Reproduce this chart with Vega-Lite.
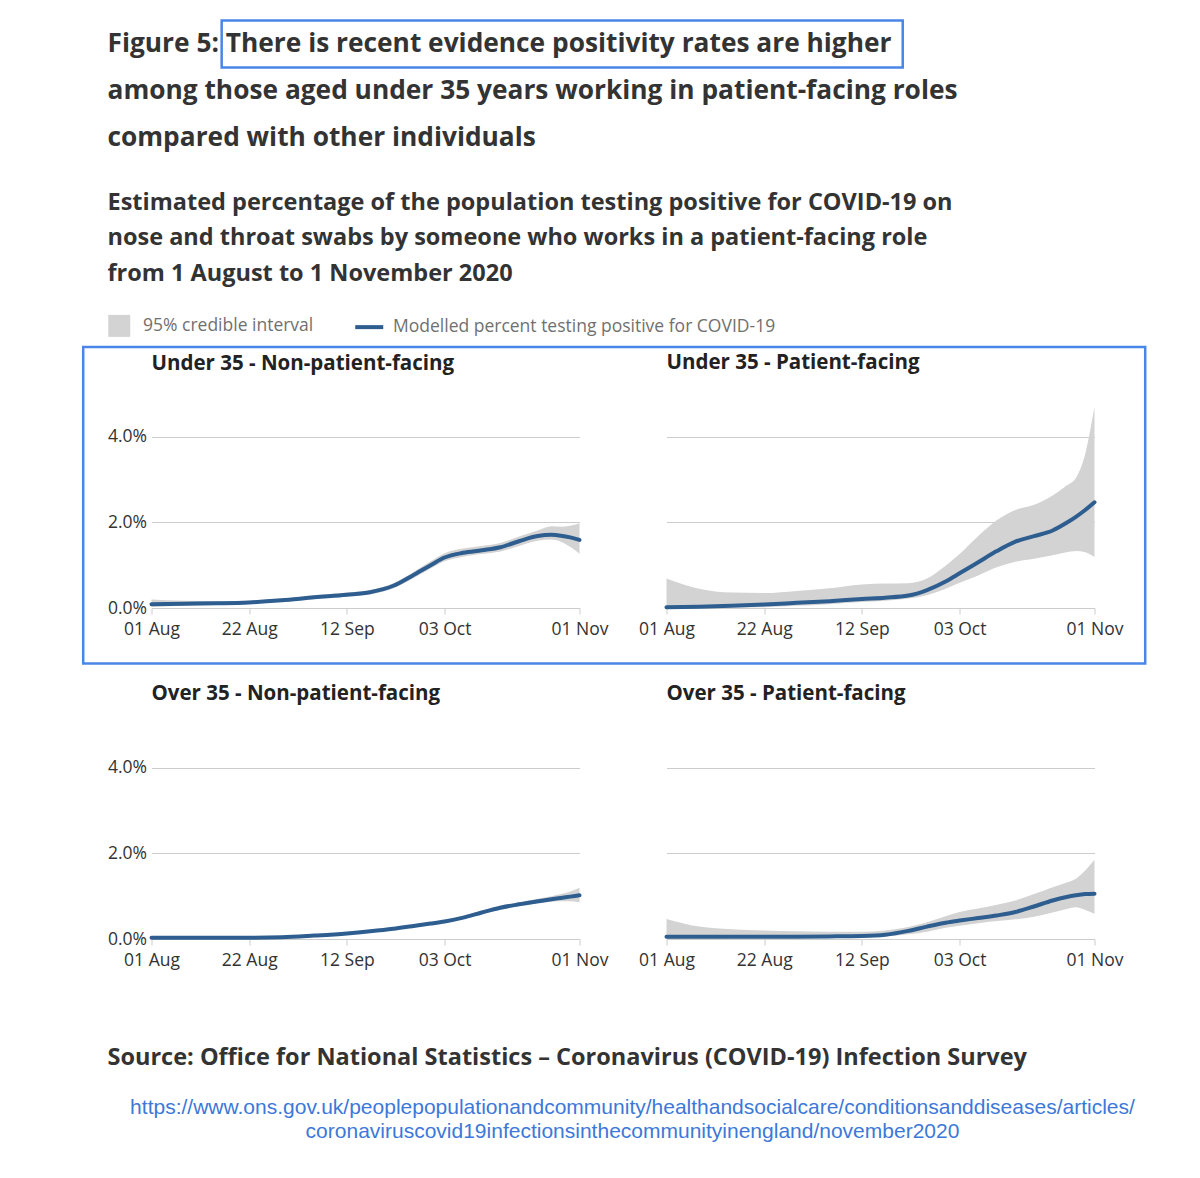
{
  "$schema": "https://vega.github.io/schema/vega-lite/v6.json",
  "background": "white",
  "autosize": {"type": "pad"},
  "padding": {"left": 81.5, "top": 19, "right": 5, "bottom": 5},
  "title": {
    "text": ["Figure 5: There is recent evidence positivity rates are higher", "among those aged under 35 years working in patient-facing roles", "compared with other individuals"],
    "subtitle": ["Estimated percentage of the population testing positive for COVID-19 on", "nose and throat swabs by someone who works in a patient-facing role", "from 1 August to 1 November 2020"],
    "anchor": "start", "frame": "group", "dx": -44, "offset": -266,
    "font": "Open Sans", "fontSize": 26.3, "fontWeight": "bold", "color": "#333333", "lineHeight": 47,
    "subtitleFont": "Open Sans", "subtitleFontSize": 23.5, "subtitleFontWeight": "bold", "subtitleColor": "#333333", "subtitleLineHeight": 35.5, "subtitlePadding": 39
  },
  "datasets": {
    "series": [
      {"panel": "Under 35 - Non-patient-facing", "date": "2020/08/01", "lo": 0.03, "hi": 0.20, "est": 0.09},
      {"panel": "Under 35 - Non-patient-facing", "date": "2020/08/08", "lo": 0.05, "hi": 0.17, "est": 0.10},
      {"panel": "Under 35 - Non-patient-facing", "date": "2020/08/15", "lo": 0.07, "hi": 0.16, "est": 0.11},
      {"panel": "Under 35 - Non-patient-facing", "date": "2020/08/22", "lo": 0.10, "hi": 0.17, "est": 0.13},
      {"panel": "Under 35 - Non-patient-facing", "date": "2020/08/29", "lo": 0.14, "hi": 0.22, "est": 0.18},
      {"panel": "Under 35 - Non-patient-facing", "date": "2020/09/05", "lo": 0.21, "hi": 0.29, "est": 0.25},
      {"panel": "Under 35 - Non-patient-facing", "date": "2020/09/12", "lo": 0.27, "hi": 0.36, "est": 0.31},
      {"panel": "Under 35 - Non-patient-facing", "date": "2020/09/17", "lo": 0.32, "hi": 0.42, "est": 0.37},
      {"panel": "Under 35 - Non-patient-facing", "date": "2020/09/22", "lo": 0.46, "hi": 0.58, "est": 0.52},
      {"panel": "Under 35 - Non-patient-facing", "date": "2020/09/26", "lo": 0.68, "hi": 0.82, "est": 0.75},
      {"panel": "Under 35 - Non-patient-facing", "date": "2020/09/30", "lo": 0.92, "hi": 1.09, "est": 1.00},
      {"panel": "Under 35 - Non-patient-facing", "date": "2020/10/03", "lo": 1.09, "hi": 1.28, "est": 1.18},
      {"panel": "Under 35 - Non-patient-facing", "date": "2020/10/07", "lo": 1.20, "hi": 1.39, "est": 1.29},
      {"panel": "Under 35 - Non-patient-facing", "date": "2020/10/11", "lo": 1.26, "hi": 1.45, "est": 1.35},
      {"panel": "Under 35 - Non-patient-facing", "date": "2020/10/15", "lo": 1.32, "hi": 1.52, "est": 1.42},
      {"panel": "Under 35 - Non-patient-facing", "date": "2020/10/19", "lo": 1.45, "hi": 1.67, "est": 1.56},
      {"panel": "Under 35 - Non-patient-facing", "date": "2020/10/23", "lo": 1.57, "hi": 1.81, "est": 1.68},
      {"panel": "Under 35 - Non-patient-facing", "date": "2020/10/26", "lo": 1.60, "hi": 1.91, "est": 1.71},
      {"panel": "Under 35 - Non-patient-facing", "date": "2020/10/28", "lo": 1.55, "hi": 1.90, "est": 1.69},
      {"panel": "Under 35 - Non-patient-facing", "date": "2020/10/30", "lo": 1.43, "hi": 1.92, "est": 1.65},
      {"panel": "Under 35 - Non-patient-facing", "date": "2020/11/01", "lo": 1.27, "hi": 1.98, "est": 1.59},

      {"panel": "Under 35 - Patient-facing", "date": "2020/08/01", "lo": 0.00, "hi": 0.69, "est": 0.02},
      {"panel": "Under 35 - Patient-facing", "date": "2020/08/08", "lo": 0.00, "hi": 0.45, "est": 0.03},
      {"panel": "Under 35 - Patient-facing", "date": "2020/08/15", "lo": 0.01, "hi": 0.36, "est": 0.05},
      {"panel": "Under 35 - Patient-facing", "date": "2020/08/22", "lo": 0.02, "hi": 0.35, "est": 0.08},
      {"panel": "Under 35 - Patient-facing", "date": "2020/08/29", "lo": 0.05, "hi": 0.40, "est": 0.12},
      {"panel": "Under 35 - Patient-facing", "date": "2020/09/05", "lo": 0.09, "hi": 0.46, "est": 0.16},
      {"panel": "Under 35 - Patient-facing", "date": "2020/09/12", "lo": 0.14, "hi": 0.55, "est": 0.21},
      {"panel": "Under 35 - Patient-facing", "date": "2020/09/17", "lo": 0.17, "hi": 0.57, "est": 0.24},
      {"panel": "Under 35 - Patient-facing", "date": "2020/09/22", "lo": 0.22, "hi": 0.58, "est": 0.29},
      {"panel": "Under 35 - Patient-facing", "date": "2020/09/26", "lo": 0.30, "hi": 0.69, "est": 0.42},
      {"panel": "Under 35 - Patient-facing", "date": "2020/09/30", "lo": 0.45, "hi": 0.99, "est": 0.62},
      {"panel": "Under 35 - Patient-facing", "date": "2020/10/03", "lo": 0.59, "hi": 1.26, "est": 0.81},
      {"panel": "Under 35 - Patient-facing", "date": "2020/10/07", "lo": 0.76, "hi": 1.68, "est": 1.07},
      {"panel": "Under 35 - Patient-facing", "date": "2020/10/11", "lo": 0.95, "hi": 2.05, "est": 1.33},
      {"panel": "Under 35 - Patient-facing", "date": "2020/10/15", "lo": 1.08, "hi": 2.29, "est": 1.55},
      {"panel": "Under 35 - Patient-facing", "date": "2020/10/19", "lo": 1.15, "hi": 2.41, "est": 1.68},
      {"panel": "Under 35 - Patient-facing", "date": "2020/10/23", "lo": 1.23, "hi": 2.63, "est": 1.81},
      {"panel": "Under 35 - Patient-facing", "date": "2020/10/26", "lo": 1.30, "hi": 2.86, "est": 1.99},
      {"panel": "Under 35 - Patient-facing", "date": "2020/10/28", "lo": 1.33, "hi": 3.04, "est": 2.13},
      {"panel": "Under 35 - Patient-facing", "date": "2020/10/30", "lo": 1.30, "hi": 3.60, "est": 2.29},
      {"panel": "Under 35 - Patient-facing", "date": "2020/11/01", "lo": 1.19, "hi": 4.70, "est": 2.47},

      {"panel": "Over 35 - Non-patient-facing", "date": "2020/08/01", "lo": 0.02, "hi": 0.05, "est": 0.03},
      {"panel": "Over 35 - Non-patient-facing", "date": "2020/08/08", "lo": 0.02, "hi": 0.04, "est": 0.03},
      {"panel": "Over 35 - Non-patient-facing", "date": "2020/08/15", "lo": 0.02, "hi": 0.04, "est": 0.03},
      {"panel": "Over 35 - Non-patient-facing", "date": "2020/08/22", "lo": 0.02, "hi": 0.04, "est": 0.03},
      {"panel": "Over 35 - Non-patient-facing", "date": "2020/08/29", "lo": 0.03, "hi": 0.06, "est": 0.04},
      {"panel": "Over 35 - Non-patient-facing", "date": "2020/09/05", "lo": 0.06, "hi": 0.10, "est": 0.08},
      {"panel": "Over 35 - Non-patient-facing", "date": "2020/09/12", "lo": 0.11, "hi": 0.15, "est": 0.13},
      {"panel": "Over 35 - Non-patient-facing", "date": "2020/09/17", "lo": 0.16, "hi": 0.20, "est": 0.18},
      {"panel": "Over 35 - Non-patient-facing", "date": "2020/09/22", "lo": 0.22, "hi": 0.26, "est": 0.24},
      {"panel": "Over 35 - Non-patient-facing", "date": "2020/09/26", "lo": 0.28, "hi": 0.32, "est": 0.30},
      {"panel": "Over 35 - Non-patient-facing", "date": "2020/09/30", "lo": 0.34, "hi": 0.39, "est": 0.36},
      {"panel": "Over 35 - Non-patient-facing", "date": "2020/10/03", "lo": 0.38, "hi": 0.44, "est": 0.41},
      {"panel": "Over 35 - Non-patient-facing", "date": "2020/10/07", "lo": 0.47, "hi": 0.53, "est": 0.50},
      {"panel": "Over 35 - Non-patient-facing", "date": "2020/10/11", "lo": 0.58, "hi": 0.66, "est": 0.62},
      {"panel": "Over 35 - Non-patient-facing", "date": "2020/10/15", "lo": 0.69, "hi": 0.78, "est": 0.73},
      {"panel": "Over 35 - Non-patient-facing", "date": "2020/10/19", "lo": 0.77, "hi": 0.86, "est": 0.81},
      {"panel": "Over 35 - Non-patient-facing", "date": "2020/10/23", "lo": 0.83, "hi": 0.94, "est": 0.88},
      {"panel": "Over 35 - Non-patient-facing", "date": "2020/10/26", "lo": 0.87, "hi": 1.00, "est": 0.93},
      {"panel": "Over 35 - Non-patient-facing", "date": "2020/10/28", "lo": 0.88, "hi": 1.05, "est": 0.96},
      {"panel": "Over 35 - Non-patient-facing", "date": "2020/10/30", "lo": 0.88, "hi": 1.11, "est": 0.99},
      {"panel": "Over 35 - Non-patient-facing", "date": "2020/11/01", "lo": 0.86, "hi": 1.20, "est": 1.02},

      {"panel": "Over 35 - Patient-facing", "date": "2020/08/01", "lo": 0.00, "hi": 0.47, "est": 0.055},
      {"panel": "Over 35 - Patient-facing", "date": "2020/08/08", "lo": 0.01, "hi": 0.29, "est": 0.055},
      {"panel": "Over 35 - Patient-facing", "date": "2020/08/15", "lo": 0.02, "hi": 0.23, "est": 0.055},
      {"panel": "Over 35 - Patient-facing", "date": "2020/08/22", "lo": 0.03, "hi": 0.20, "est": 0.055},
      {"panel": "Over 35 - Patient-facing", "date": "2020/08/29", "lo": 0.03, "hi": 0.18, "est": 0.055},
      {"panel": "Over 35 - Patient-facing", "date": "2020/09/05", "lo": 0.03, "hi": 0.17, "est": 0.06},
      {"panel": "Over 35 - Patient-facing", "date": "2020/09/12", "lo": 0.04, "hi": 0.17, "est": 0.07},
      {"panel": "Over 35 - Patient-facing", "date": "2020/09/17", "lo": 0.06, "hi": 0.20, "est": 0.10},
      {"panel": "Over 35 - Patient-facing", "date": "2020/09/22", "lo": 0.11, "hi": 0.28, "est": 0.19},
      {"panel": "Over 35 - Patient-facing", "date": "2020/09/26", "lo": 0.17, "hi": 0.39, "est": 0.29},
      {"panel": "Over 35 - Patient-facing", "date": "2020/09/30", "lo": 0.26, "hi": 0.53, "est": 0.38},
      {"panel": "Over 35 - Patient-facing", "date": "2020/10/03", "lo": 0.31, "hi": 0.63, "est": 0.43},
      {"panel": "Over 35 - Patient-facing", "date": "2020/10/07", "lo": 0.37, "hi": 0.71, "est": 0.49},
      {"panel": "Over 35 - Patient-facing", "date": "2020/10/11", "lo": 0.42, "hi": 0.80, "est": 0.55},
      {"panel": "Over 35 - Patient-facing", "date": "2020/10/15", "lo": 0.46, "hi": 0.90, "est": 0.63},
      {"panel": "Over 35 - Patient-facing", "date": "2020/10/19", "lo": 0.52, "hi": 1.05, "est": 0.76},
      {"panel": "Over 35 - Patient-facing", "date": "2020/10/23", "lo": 0.62, "hi": 1.21, "est": 0.90},
      {"panel": "Over 35 - Patient-facing", "date": "2020/10/26", "lo": 0.70, "hi": 1.32, "est": 0.98},
      {"panel": "Over 35 - Patient-facing", "date": "2020/10/28", "lo": 0.74, "hi": 1.41, "est": 1.02},
      {"panel": "Over 35 - Patient-facing", "date": "2020/10/30", "lo": 0.68, "hi": 1.60, "est": 1.05},
      {"panel": "Over 35 - Patient-facing", "date": "2020/11/01", "lo": 0.59, "hi": 1.85, "est": 1.06}
    ]
  },
  "concat": [
    {
      "title": {"text": "Under 35 - Non-patient-facing", "offset": -355},
      "width": 428, "height": 214,
      "data": {"name": "series"},
      "transform": [{"filter": {"field": "panel", "equal": "Under 35 - Non-patient-facing"}}],
      "layer": [
        {"mark": {"type": "area", "interpolate": "monotone"},
         "encoding": {
           "x": {"field": "date", "type": "temporal", "scale": {"domain": [{"year": 2020, "month": 8, "date": 1}, {"year": 2020, "month": 11, "date": 1}], "nice": false},
                 "axis": {"values": [{"year": 2020, "month": 8, "date": 1}, {"year": 2020, "month": 8, "date": 22}, {"year": 2020, "month": 9, "date": 12}, {"year": 2020, "month": 10, "date": 3}, {"year": 2020, "month": 11, "date": 1}], "format": "%d %b"}},
           "y": {"field": "lo", "type": "quantitative", "scale": {"domain": [0, 5], "nice": false},
                 "axis": {"values": [0, 2, 4], "labelExpr": "format(datum.value, '.1f') + '%'"}},
           "y2": {"field": "hi"},
           "color": {"datum": "95% credible interval", "scale": {"domain": ["95% credible interval", "Modelled percent testing positive for COVID-19"], "range": ["#d3d3d3", "#2e5d8f"]},
             "legend": {
               "orient": "none", "legendX": -41, "legendY": -77, "direction": "horizontal", "title": null, "padding": 0,
               "labelFont": "Open Sans", "labelFontSize": 17.5, "labelColor": "#707070", "labelOffset": 15, "labelLimit": 0,
               "symbolSize": 484, "symbolStrokeWidth": 1.5, "columnPadding": 33,
               "encode": {"symbols": {"update": {
                 "shape": {"signal": "datum.value === '95% credible interval' ? 'square' : 'stroke'"},
                 "size": {"signal": "datum.value === '95% credible interval' ? 484 : 784"},
                 "strokeWidth": {"signal": "datum.value === '95% credible interval' ? 0 : 4"},
                 "fill": {"signal": "datum.value === '95% credible interval' ? '#c8c8c8' : 'transparent'"},
                 "stroke": {"signal": "datum.value === '95% credible interval' ? '#c8c8c8' : '#2e5d8f'"},
                 "opacity": {"value": 1}
               }}}
             }}
         }},
        {"mark": {"type": "line", "interpolate": "monotone", "strokeWidth": 4, "strokeCap": "round"},
         "encoding": {
           "x": {"field": "date", "type": "temporal"},
           "y": {"field": "est", "type": "quantitative"},
           "color": {"datum": "Modelled percent testing positive for COVID-19"}
         }},
        {"data": {"values": [{}]},
         "mark": {"type": "rect", "fill": "transparent", "stroke": "#4a86e8", "strokeWidth": 2.5, "clip": false},
         "encoding": {
           "x": {"datum": {"year": 2020, "month": 8, "date": 16, "hours": 2}, "type": "temporal"},
           "x2": {"datum": {"year": 2021, "month": 1, "date": 9, "hours": 11, "minutes": 30}},
           "y": {"datum": 13.727, "type": "quantitative"},
           "y2": {"datum": 12.629}
         }},
        {"data": {"values": [{}]},
         "mark": {"type": "rect", "fill": "transparent", "stroke": "#4a86e8", "strokeWidth": 2.5, "clip": false},
         "encoding": {
           "x": {"datum": {"year": 2020, "month": 7, "date": 17, "hours": 7, "minutes": 40}, "type": "temporal"},
           "x2": {"datum": {"year": 2021, "month": 3, "date": 2, "hours": 14, "minutes": 24}},
           "y": {"datum": 6.098, "type": "quantitative"},
           "y2": {"datum": -1.297}
         }}
      ]
    },
    {
      "title": {"text": "Under 35 - Patient-facing", "offset": 21},
      "width": 428, "height": 214,
      "data": {"name": "series"},
      "transform": [{"filter": {"field": "panel", "equal": "Under 35 - Patient-facing"}}],
      "layer": [
        {"mark": {"type": "area", "interpolate": "monotone"},
         "encoding": {
           "x": {"field": "date", "type": "temporal", "scale": {"domain": [{"year": 2020, "month": 8, "date": 1}, {"year": 2020, "month": 11, "date": 1}], "nice": false},
                 "axis": {"values": [{"year": 2020, "month": 8, "date": 1}, {"year": 2020, "month": 8, "date": 22}, {"year": 2020, "month": 9, "date": 12}, {"year": 2020, "month": 10, "date": 3}, {"year": 2020, "month": 11, "date": 1}], "format": "%d %b"}},
           "y": {"field": "lo", "type": "quantitative", "scale": {"domain": [0, 5], "nice": false},
                 "axis": {"values": [0, 2, 4], "labels": false}},
           "y2": {"field": "hi"},
           "color": {"datum": "95% credible interval"}
         }},
        {"mark": {"type": "line", "interpolate": "monotone", "strokeWidth": 4, "strokeCap": "round"},
         "encoding": {
           "x": {"field": "date", "type": "temporal"},
           "y": {"field": "est", "type": "quantitative"},
           "color": {"datum": "Modelled percent testing positive for COVID-19"}
         }}
      ]
    },
    {
      "title": {"text": "Over 35 - Non-patient-facing", "offset": 21},
      "width": 428, "height": 214,
      "data": {"name": "series"},
      "transform": [{"filter": {"field": "panel", "equal": "Over 35 - Non-patient-facing"}}],
      "layer": [
        {"mark": {"type": "area", "interpolate": "monotone"},
         "encoding": {
           "x": {"field": "date", "type": "temporal", "scale": {"domain": [{"year": 2020, "month": 8, "date": 1}, {"year": 2020, "month": 11, "date": 1}], "nice": false},
                 "axis": {"values": [{"year": 2020, "month": 8, "date": 1}, {"year": 2020, "month": 8, "date": 22}, {"year": 2020, "month": 9, "date": 12}, {"year": 2020, "month": 10, "date": 3}, {"year": 2020, "month": 11, "date": 1}], "format": "%d %b"}},
           "y": {"field": "lo", "type": "quantitative", "scale": {"domain": [0, 5], "nice": false},
                 "axis": {"values": [0, 2, 4], "labelExpr": "format(datum.value, '.1f') + '%'"}},
           "y2": {"field": "hi"},
           "color": {"datum": "95% credible interval"}
         }},
        {"mark": {"type": "line", "interpolate": "monotone", "strokeWidth": 4, "strokeCap": "round"},
         "encoding": {
           "x": {"field": "date", "type": "temporal"},
           "y": {"field": "est", "type": "quantitative"},
           "color": {"datum": "Modelled percent testing positive for COVID-19"}
         }}
      ]
    },
    {
      "title": {"text": "Over 35 - Patient-facing", "offset": 21},
      "width": 428, "height": 214,
      "data": {"name": "series"},
      "transform": [{"filter": {"field": "panel", "equal": "Over 35 - Patient-facing"}}],
      "layer": [
        {"mark": {"type": "area", "interpolate": "monotone"},
         "encoding": {
           "x": {"field": "date", "type": "temporal", "scale": {"domain": [{"year": 2020, "month": 8, "date": 1}, {"year": 2020, "month": 11, "date": 1}], "nice": false},
                 "axis": {"values": [{"year": 2020, "month": 8, "date": 1}, {"year": 2020, "month": 8, "date": 22}, {"year": 2020, "month": 9, "date": 12}, {"year": 2020, "month": 10, "date": 3}, {"year": 2020, "month": 11, "date": 1}], "format": "%d %b"}},
           "y": {"field": "lo", "type": "quantitative", "scale": {"domain": [0, 5], "nice": false},
                 "axis": {"values": [0, 2, 4], "labels": false}},
           "y2": {"field": "hi"},
           "color": {"datum": "95% credible interval"}
         }},
        {"mark": {"type": "line", "interpolate": "monotone", "strokeWidth": 4, "strokeCap": "round"},
         "encoding": {
           "x": {"field": "date", "type": "temporal"},
           "y": {"field": "est", "type": "quantitative"},
           "color": {"datum": "Modelled percent testing positive for COVID-19"}
         }}
      ]
    },
    {
      "title": {"text": "Source: Office for National Statistics \u2013 Coronavirus (COVID-19) Infection Survey", "offset": -13, "dx": -44,
                "fontSize": 23.5, "color": "#333333"},
      "width": 428, "height": 104,
      "data": {"values": [
        {"url": "https://www.ons.gov.uk/peoplepopulationandcommunity/healthandsocialcare/conditionsanddiseases/articles/\ncoronaviruscovid19infectionsinthecommunityinengland/november2020"}
      ]},
      "mark": {"type": "text", "font": "Liberation Sans", "fontSize": 21, "color": "#3c78d8", "align": "center", "baseline": "middle", "lineBreak": "\n", "lineHeight": 24},
      "encoding": {
        "text": {"field": "url"},
        "x": {"datum": {"year": 2020, "month": 11, "date": 12, "hours": 9, "minutes": 20}, "type": "temporal",
              "scale": {"domain": [{"year": 2020, "month": 8, "date": 1}, {"year": 2020, "month": 11, "date": 1}], "nice": false}, "axis": null}
      }
    }
  ],
  "columns": 2,
  "spacing": {"row": 117, "column": 87},
  "bounds": "flush",
  "config": {
    "view": {"stroke": null},
    "font": "Open Sans",
    "title": {"anchor": "start", "frame": "group", "font": "Open Sans", "fontSize": 20.5, "fontWeight": "bold", "color": "#222222"},
    "axis": {"title": null, "labelFont": "Open Sans", "labelFontSize": 17.5, "labelColor": "#333333", "gridColor": "#cccccc", "domainColor": "#cccccc", "tickColor": "#cccccc"},
    "axisX": {"grid": false, "tickSize": 6, "labelPadding": 6, "labelFlush": false, "labelOverlap": false},
    "axisY": {"grid": true, "domain": false, "ticks": false, "labelPadding": 5}
  }
}
